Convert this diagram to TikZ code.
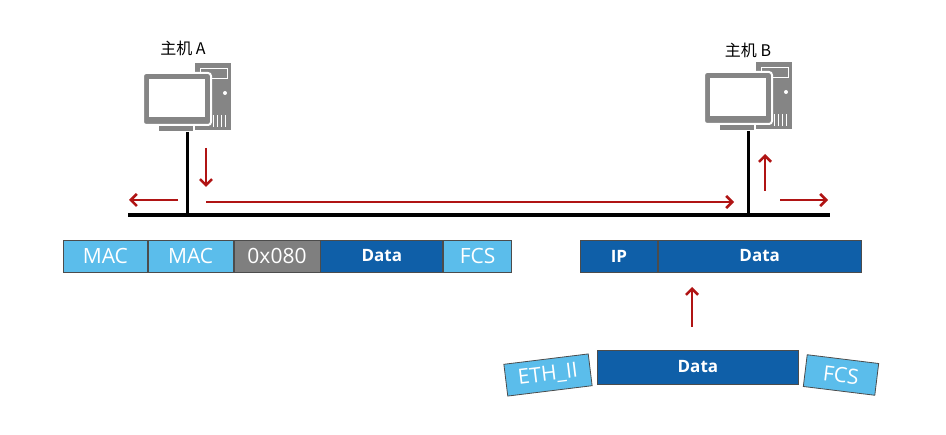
\documentclass[tikz,border=0pt]{standalone}
\usepackage{fontspec}
\setmainfont{Open Sans}
\newfontfamily\cjk{Noto Sans CJK SC}
\usetikzlibrary{positioning,arrows.meta}

\definecolor{lightblue}{HTML}{5BBDEB}
\definecolor{darkblue}{HTML}{0F5FA8}
\definecolor{fieldgrey}{HTML}{7F7F7F}
\definecolor{flowred}{HTML}{B01414}
\definecolor{icongrey}{HTML}{858585}

\tikzset{
  field/.style={draw=black!70, line width=0.8pt, minimum height=32, inner sep=0pt, text=white},
  light/.style={field, fill=lightblue, font=\fontsize{21}{21}\selectfont},
  dark/.style={field, fill=darkblue, font=\fontsize{17}{17}\selectfont\bfseries},
  flow/.style={draw=flowred, line width=2.6pt, -{Straight Barb[length=6pt,width=12pt]}},
  hostlabel/.style={font=\cjk\fontsize{16}{16}\selectfont},
  pcicon/.pic={
    % tower
    \fill[icongrey] (52,-10) rectangle (88,57);
    \draw[white, line width=1pt] (57,-4) rectangle (84,6);
    \fill[white] (82,20) circle (2);
    \foreach \v in {70,74,78,82} \draw[white, line width=1pt] (\v,42) -- (\v,54);
    % monitor
    \filldraw[icongrey, draw=white, line width=2pt, rounded corners=3] (0,0) rectangle (68,52);
    \fill[white] (6,6) rectangle (62,44);
    \fill[icongrey] (28,52) rectangle (40,56);
    \filldraw[icongrey, draw=white, line width=1pt] (15,53) rectangle (50,59);
    \coordinate (-foot) at (44,59);
  }
}

\begin{document}
\begin{tikzpicture}[x=1pt, y=-1pt]
    \useasboundingbox (0,0) rectangle (946,435);

    % Hosts
    \pic (hostA) at (143,73) {pcicon};
    \pic (hostB) at (704,72) {pcicon};
    \node[hostlabel] (labelA) at (183,48) {主机 A};
    \node[hostlabel] (labelB) at (748,50) {主机 B};

    % Bus
    \coordinate (busL) at (128,215);
    \coordinate (busR) at (830,215);
    \draw[line width=3.5pt] (busL) -- (busR);
    \draw[line width=3pt] (hostA-foot) -- (hostA-foot |- busL);
    \draw[line width=3pt] (hostB-foot) -- (hostB-foot |- busL);

    % Flow arrows
    \coordinate (downS) at (206,148); \coordinate (downE) at (206,187);
    \coordinate (leftS) at (178,200); \coordinate (leftE) at (129,200);
    \coordinate (longS) at (206,202); \coordinate (longE) at (734,202);
    \coordinate (upS) at (765,191);   \coordinate (upE) at (765,154);
    \coordinate (rightS) at (780,200); \coordinate (rightE) at (828,200);
    \coordinate (ipS) at (692,327);   \coordinate (ipE) at (692,287);
    \draw[flow] (downS) -- (downE);
    \draw[flow] (leftS) -- (leftE);
    \draw[flow] (longS) -- (longE);
    \draw[flow] (upS) -- (upE);
    \draw[flow] (rightS) -- (rightE);
    \draw[flow] (ipS) -- (ipE);

    % Ethernet frame
    \node[light, minimum width=84, anchor=west] (mac1) at (63,256) {MAC};
    \node[light, minimum width=85, right=0pt of mac1] (mac2) {MAC};
    \node[field, fill=fieldgrey, font=\fontsize{21}{21}\selectfont, minimum width=86, right=0pt of mac2] (etype) {0x080};
    \node[dark, minimum width=122, right=0pt of etype] (data1) {Data};
    \node[light, minimum width=68, right=0pt of data1] (fcs1) {FCS};

    % IP packet
    \node[dark, minimum width=77, anchor=west] (ip) at (580,256) {IP};
    \node[dark, minimum width=203, right=0pt of ip] (data2) {Data};

    % Decapsulation
    \node[dark, minimum width=201, minimum height=34, anchor=west] (data3) at (597,367) {Data};
    \node[light, minimum width=85, rotate=7] (eth) at (548,375) {ETH\_II};
    \node[light, minimum width=72, rotate=-7] (fcs2) at (841,375) {FCS};
\end{tikzpicture}
\end{document}
